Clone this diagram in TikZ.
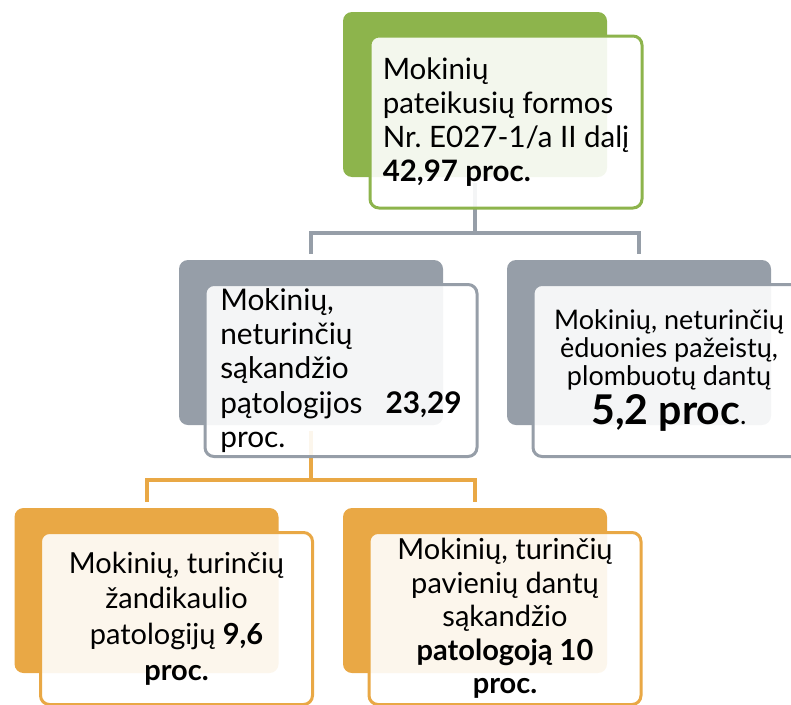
\documentclass[tikz,border=0pt]{standalone}
\usepackage{fontspec}
\setmainfont{Lato}
\definecolor{cGreen}{RGB}{141,180,76}
\definecolor{cGray}{RGB}{150,158,168}
\definecolor{cGold}{RGB}{233,168,69}
\tikzset{
	backbox/.style ={rectangle, rounded corners=9pt, minimum width=264pt, minimum height=165pt, inner sep=0pt},
	frontbox/.style={rectangle, rounded corners=9pt, minimum width=272pt, minimum height=172pt, line width=3pt, fill=white, fill opacity=0.9, text opacity=1, inner sep=0pt},
	link/.style    ={line width=4pt, shorten >=6pt},
}

\begin{document}
\begin{tikzpicture}[x=1pt, y=-1pt]
	\clip (0,0) rectangle (791,704);
	% coloured back shapes
	\node[backbox, fill=cGreen] (topbg)  at (475,94.5)    {};
	\node[backbox, fill=cGray]  (sakbg)  at (311,342.5)   {};
	\node[backbox, fill=cGray]  (eduobg) at (639,342.5)   {};
	\node[backbox, fill=cGold]  (zandbg) at (146.5,590.5) {};
	\node[backbox, fill=cGold]  (pavbg)  at (475,590.5)   {};
	% connectors
	\coordinate (grayjoin) at (topbg.south |- 0,233);
	\draw[link, cGray] (grayjoin) -- (topbg.south);
	\draw[link, cGray] (grayjoin) -| (sakbg.north);
	\draw[link, cGray] (grayjoin) -| (eduobg.north);
	\coordinate (goldjoin) at (sakbg.south |- 0,480);
	\draw[link, cGold] (goldjoin) -- (sakbg.south);
	\draw[link, cGold] (goldjoin) -| (zandbg.north);
	\draw[link, cGold] (goldjoin) -| (pavbg.north);
	% text boxes
	\node[frontbox, draw=cGreen, align=left, font=\fontsize{29.5}{34}\selectfont] (topfg) at ([shift={(31,27.5)}]topbg.center)
		{Mokinių\\ pateikusių formos\\ Nr.~E027-1/a II dalį\\ \textbf{42,97 proc.}};
	\node[frontbox, draw=cGray, align=left, font=\fontsize{29.8}{34.3}\selectfont] (sakfg) at ([shift={(30,28)}]sakbg.center)
		{Mokinių,\\ neturinčių\\ sąkandžio\\ pątologijos\hspace{23pt}\textbf{23,29}\\ proc.};
	\node[frontbox, draw=cGray, align=center, font=\fontsize{27}{28}\selectfont] (eduofg) at ([shift={(30,28)}]eduobg.center)
		{Mokinių, neturinčių\\ ėduonies pažeistų,\\ plombuotų dantų\\[4pt] {\fontsize{41}{44}\selectfont\bfseries 5,2 proc}.};
	\node[frontbox, draw=cGold, align=center, font=\fontsize{29}{35.7}\selectfont] (zandfg) at ([shift={(30,28)}]zandbg.center)
		{Mokinių, turinčių\\ žandikaulio\\ patologijų \textbf{9,6}\\ \textbf{proc.}};
	\node[frontbox, draw=cGold, align=center, font=\fontsize{29}{33.5}\selectfont] (pavfg) at ([shift={(30,28)}]pavbg.center)
		{Mokinių, turinčių\\ pavienių dantų\\ sąkandžio\\ \textbf{patologoją 10}\\ \textbf{proc.}};
\end{tikzpicture}
\end{document}
